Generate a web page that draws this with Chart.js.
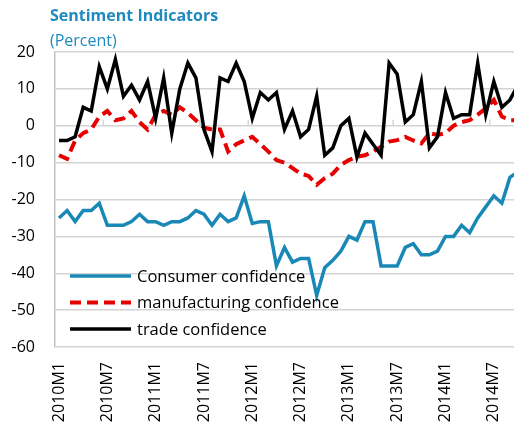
<!DOCTYPE html>
<html>
<head>
<meta charset="utf-8">
<script src="https://cdn.jsdelivr.net/npm/chart.js@4"></script>
<style>
  html, body { margin: 0; padding: 0; background: #fff; overflow: hidden; }
  #wrap { position: relative; width: 514px; height: 428px; overflow: hidden; }
  #title { position: absolute; left: 50px; top: 4px; font: bold 16px "Open Sans", sans-serif; color: #1f8abf; white-space: nowrap; }
  #unit { position: absolute; left: 50px; top: 29px; font: 16px "Open Sans", sans-serif; color: #1f8abf; white-space: nowrap; }
  canvas { position: absolute; left: 0; top: 0; }
</style>
</head>
<body>
<div id="wrap">
  <canvas id="chart" width="522" height="428" style="width:522px;height:428px"></canvas>
  <div id="title">Sentiment Indicators</div>
  <div id="unit">(Percent)</div>
</div>
<script>
// Monthly categories 2010M1 .. 2014M10 (the last one is cut off at the right edge)
const years = [2010, 2011, 2012, 2013, 2014];
const months = [];
years.forEach(y => {
    for (let m = 1; m <= 12; m++) months.push(y + 'M' + m);
});
const categories = months.slice(0, 58);

const yTicks = [20, 10, 0, -10, -20, -30, -40, -50, -60];

const consumer = [
    -25, -23, -26, -23, -23, -21, -27, -27, -27, -26, -24, -26,
    -26, -27, -26, -26, -25, -23, -24, -27, -24, -26, -25, -19,
    -26.5, -26, -26, -38, -33, -37, -36, -36, -46, -38.5, -36.5, -34,
    -30, -31, -26, -26, -38, -38, -38, -33, -32, -35, -35, -34,
    -30, -30, -27, -29, -25, -22, -19, -21, -14, -12.5
];

const manufacturing = [
    -8, -9, -4, -2, -1, 2.5, 4, 1.5, 2, 4, 1, -1,
    3, 4, 3, 5, 3.5, 1.5, -0.5, -1, -1, -7, -5, -4,
    -3, -5, -7, -9.3, -10, -11.5, -13, -13.6, -16, -14.2, -13, -10.6,
    -9.3, -8.4, -8, -7, -5.7, -4.3, -3.9, -3, -4, -4.8, -2, -2.5,
    -2, 0, 1, 1.5, 3, 4.7, 7, 2.5, 1.5, 1.5
];

const trade = [
    -4, -4, -3, 5, 4, 16, 10, 18, 8, 11, 7, 12,
    2, 13, -2, 10, 17, 13, -1, -7, 13, 12, 17, 12,
    2, 9, 7, 9, -1, 4, -3, -1, 8, -8, -6, 0,
    2, -8.5, -2, -5, -8, 17, 14, 1, 3, 12, -6, -3,
    9, 2, 3, 3, 17, 3, 12, 5, 7, 11
];

const seriesNames = ['Consumer confidence', 'manufacturing confidence', 'trade confidence'];
const seriesColors = ['#1a88b6', '#e60000', '#000000'];

const FONT = '"Open Sans", sans-serif';
const GRID = '#d4d4d4';

// legend drawn inside the plot, lower left, plus the small ticks on the zero line
const insidePlugin = {
    id: 'inside',
    beforeDatasetsDraw(chart) {
        const ctx = chart.ctx;
        const x = chart.scales.x;
        const y0 = chart.scales.y.getPixelForValue(0);
        const w = (chart.chartArea.right - chart.chartArea.left) / categories.length;
        ctx.save();
        ctx.strokeStyle = GRID;
        ctx.lineWidth = 1.5;
        for (let i = 6; i < categories.length; i += 6) {
            const px = x.getPixelForValue(i) - w / 2;
            ctx.beginPath();
            ctx.moveTo(px, y0);
            ctx.lineTo(px, y0 - 6);
            ctx.stroke();
        }
        ctx.restore();
    },
    afterDatasetsDraw(chart) {
        const ctx = chart.ctx;
        const rows = [276, 302.5, 329];
        ctx.save();
        ctx.font = '16.5px ' + FONT;
        ctx.textBaseline = 'middle';
        seriesNames.forEach((name, i) => {
            ctx.beginPath();
            ctx.strokeStyle = seriesColors[i];
            ctx.lineWidth = i === 1 ? 4 : 3.5;
            ctx.setLineDash(i === 1 ? [11, 6] : []);
            ctx.moveTo(70, rows[i]);
            ctx.lineTo(131, rows[i]);
            ctx.stroke();
            ctx.setLineDash([]);
            ctx.fillStyle = '#000';
            ctx.fillText(name, 137, rows[i] + 1);
        });
        ctx.restore();
    }
};

new Chart(document.getElementById('chart'), {
    type: 'line',
    data: {
        labels: categories,
        datasets: [
            { label: seriesNames[0], data: consumer, borderColor: seriesColors[0], borderWidth: 3.5, order: 3 },
            { label: seriesNames[1], data: manufacturing, borderColor: seriesColors[1], borderWidth: 4, borderDash: [11, 6], order: 2 },
            { label: seriesNames[2], data: trade, borderColor: seriesColors[2], borderWidth: 3.5, order: 1 }
        ]
    },
    options: {
        responsive: false,
        animation: false,
        layout: { padding: { top: 52, left: 0, right: 0, bottom: 0 } },
        elements: {
            point: { radius: 0 },
            line: { tension: 0, borderCapStyle: 'butt', borderJoinStyle: 'miter', fill: false }
        },
        plugins: {
            legend: { display: false },
            tooltip: { enabled: false }
        },
        scales: {
            x: {
                offset: true,
                grid: { display: false, drawTicks: false },
                border: { display: false },
                ticks: {
                    autoSkip: false,
                    minRotation: 90,
                    maxRotation: 90,
                    padding: 15,
                    color: '#000',
                    font: { family: FONT, size: 16 },
                    callback: function(value, index) {
                        return index % 6 === 0 ? categories[index] : '';
                    }
                },
                afterFit(scale) {
                    scale.height = 81;
                    scale.paddingLeft = 0;
                    scale.paddingRight = 0;
                }
            },
            y: {
                min: -60,
                max: 20,
                afterBuildTicks(scale) {
                    scale.ticks = yTicks.map(v => ({ value: v }));
                },
                grid: { color: GRID, lineWidth: 1.5, drawTicks: false },
                border: { display: true, color: '#c4c4c4', width: 1.5 },
                ticks: {
                    padding: 20,
                    color: '#000',
                    font: { family: FONT, size: 16 }
                },
                afterFit(scale) {
                    scale.width = 55;
                    scale.paddingTop = 0;
                    scale.paddingBottom = 0;
                }
            }
        }
    },
    plugins: [insidePlugin]
});
</script>
</body>
</html>
